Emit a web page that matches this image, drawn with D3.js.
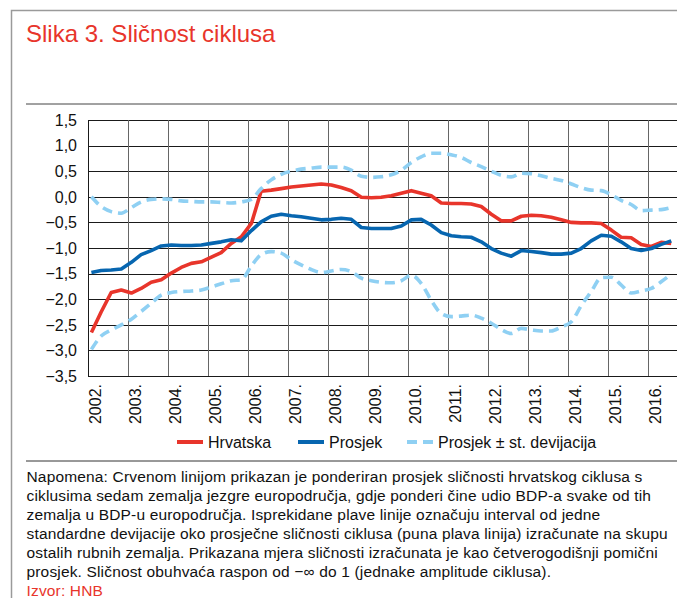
<!DOCTYPE html>
<html>
<head>
<meta charset="utf-8">
<script src="https://cdn.jsdelivr.net/npm/d3@7"></script>
<style>
  body { margin: 0; background: #fff; }
  svg { display: block; }
  .narrow { font-family: "Liberation Sans Narrow", "Arial Narrow", sans-serif; font-size: 16px; fill: #111; }
  .note { font-family: "Liberation Sans", Arial, sans-serif; font-size: 15.5px; letter-spacing: 0.16px; fill: #111; }
</style>
</head>
<body>
<svg id="chart"></svg>
<script>
// quarterly periods, 2002Q1 - 2016Q3
const periods = [
  '2002Q1','2002Q2','2002Q3','2002Q4','2003Q1','2003Q2','2003Q3','2003Q4',
  '2004Q1','2004Q2','2004Q3','2004Q4','2005Q1','2005Q2','2005Q3','2005Q4',
  '2006Q1','2006Q2','2006Q3','2006Q4','2007Q1','2007Q2','2007Q3','2007Q4',
  '2008Q1','2008Q2','2008Q3','2008Q4','2009Q1','2009Q2','2009Q3','2009Q4',
  '2010Q1','2010Q2','2010Q3','2010Q4','2011Q1','2011Q2','2011Q3','2011Q4',
  '2012Q1','2012Q2','2012Q3','2012Q4','2013Q1','2013Q2','2013Q3','2013Q4',
  '2014Q1','2014Q2','2014Q3','2014Q4','2015Q1','2015Q2','2015Q3','2015Q4',
  '2016Q1','2016Q2','2016Q3'
];

const hrvatska = [
  -2.65, -2.25, -1.87, -1.82,  -1.88, -1.79, -1.67, -1.62,
  -1.49, -1.38, -1.30, -1.27,  -1.18, -1.09, -0.91, -0.78,
  -0.52,  0.11,  0.13,  0.16,   0.19,  0.21,  0.23,  0.25,
   0.23,  0.18,  0.12, -0.01,  -0.02, -0.01,  0.02,  0.07,
   0.12,  0.07,  0.02, -0.12,  -0.13, -0.13, -0.14, -0.19,
  -0.34, -0.47, -0.47, -0.38,  -0.36, -0.37, -0.40, -0.45,
  -0.50, -0.51, -0.51, -0.52,  -0.65, -0.79, -0.80, -0.93,
  -0.97, -0.89, -0.91
];

const prosjek = [
  -1.48, -1.44, -1.43, -1.41,  -1.28, -1.13, -1.05, -0.96,
  -0.94, -0.95, -0.95, -0.94,  -0.91, -0.88, -0.84, -0.86,
  -0.66, -0.49, -0.38, -0.34,  -0.37, -0.39, -0.42, -0.45,
  -0.44, -0.42, -0.44, -0.60,  -0.62, -0.62, -0.62, -0.57,
  -0.45, -0.44, -0.55, -0.70,  -0.76, -0.78, -0.79, -0.88,
  -1.01, -1.10, -1.16, -1.05,  -1.07, -1.09, -1.12, -1.12,
  -1.10, -1.01, -0.86, -0.75,  -0.77, -0.88, -1.01, -1.05,
  -1.01, -0.93, -0.86
];

const prosjekPlusSd = [
   0.00, -0.19, -0.29, -0.32,  -0.21, -0.10, -0.05, -0.04,
  -0.05, -0.08, -0.09, -0.10,  -0.10, -0.11, -0.12, -0.10,
  -0.05,  0.16,  0.33,  0.44,   0.50,  0.54,  0.56,  0.58,
   0.58,  0.58,  0.52,  0.40,   0.38,  0.39,  0.43,  0.52,
   0.67,  0.78,  0.85,  0.85,   0.82,  0.77,  0.67,  0.59,
   0.50,  0.42,  0.39,  0.46,   0.45,  0.41,  0.36,  0.32,
   0.25,  0.18,  0.13,  0.12,   0.04, -0.07, -0.15, -0.27,
  -0.26, -0.25, -0.21
];

const prosjekMinusSd = [
  -2.98, -2.72, -2.60, -2.50,  -2.39, -2.24, -2.08, -1.92,
  -1.87, -1.85, -1.84, -1.82,  -1.76, -1.70, -1.64, -1.62,
  -1.35, -1.13, -1.07, -1.10,  -1.23, -1.33, -1.42, -1.48,
  -1.45, -1.42, -1.46, -1.59,  -1.64, -1.67, -1.68, -1.64,
  -1.53, -1.69, -2.02, -2.28,  -2.34, -2.33, -2.31, -2.37,
  -2.47, -2.59, -2.67, -2.57,  -2.60, -2.62, -2.62, -2.54,
  -2.44, -2.13, -1.85, -1.58,  -1.57, -1.72, -1.88, -1.84,
  -1.79, -1.66, -1.51
];

const yearLabels = ['2002.','2003.','2004.','2005.','2006.','2007.','2008.','2009.',
  '2010.','2011.','2012.','2013.','2014.','2015.','2016.'];
const yTicks = [1.5, 1.0, 0.5, 0.0, -0.5, -1.0, -1.5, -2.0, -2.5, -3.0, -3.5];

const title = 'Slika 3. Sličnost ciklusa';
const noteLines = [
  'Napomena: Crvenom linijom prikazan je ponderiran prosjek sličnosti hrvatskog ciklusa s',
  'ciklusima sedam zemalja jezgre europodručja, gdje ponderi čine udio BDP-a svake od tih',
  'zemalja u BDP-u europodručja. Isprekidane plave linije označuju interval od jedne',
  'standardne devijacije oko prosječne sličnosti ciklusa (puna plava linija) izračunate na skupu',
  'ostalih rubnih zemalja. Prikazana mjera sličnosti izračunata je kao četverogodišnji pomični',
  'prosjek. Sličnost obuhvaća raspon od −∞ do 1 (jednake amplitude ciklusa).'
];
const source = 'Izvor: HNB';

const series = [
  { name: 'Hrvatska', values: hrvatska, color: '#e8352b', dash: null },
  { name: 'Prosjek', values: prosjek, color: '#0766b0', dash: null },
  { name: 'Prosjek ± st. devijacija', values: prosjekPlusSd, color: '#8fd0f3', dash: '10,6', smooth: true },
  { name: null, values: prosjekMinusSd, color: '#8fd0f3', dash: '10,6', smooth: true }
];

const W = 677, H = 598;
const red = '#e8352b';
const svg = d3.select('#chart').attr('width', W).attr('height', H);

// frame
svg.append('path').attr('d', `M11.5,${H} V10.5 H${W}`)
  .attr('fill', 'none').attr('stroke', '#9a9a9a').attr('stroke-width', 1.5);

svg.append('text').attr('x', 26).attr('y', 42)
  .style('font-family', '"Liberation Sans", Arial, sans-serif')
  .style('font-size', '24px')
  .attr('fill', red).text(title);

svg.append('line').attr('x1', 26).attr('x2', W).attr('y1', 104).attr('y2', 104)
  .attr('stroke', '#444').attr('stroke-width', 1);

// plot area
const plot = { left: 88, top: 120, bottom: 376 };
const parseQ = s => new Date(+s.slice(0, 4), (+s.slice(5) - 1) * 3 + 1.5, 1);
const x = d3.scaleTime()
  .domain([new Date(2002, 0, 1), new Date(2017, 0, 1)])
  .range([plot.left, plot.left + 600]);
const y = d3.scaleLinear().domain([-3.5, 1.5]).range([plot.bottom, plot.top]);

const fmt = d3.formatLocale({ decimal: ',', thousands: '.', grouping: [3], currency: ['', ''], minus: '\u2212' }).format('.1f');

const g = svg.append('g');

// horizontal gridlines
g.selectAll('.hgrid').data(yTicks).join('line')
  .attr('x1', plot.left).attr('x2', W)
  .attr('y1', d => Math.round(y(d)) + 0.5).attr('y2', d => Math.round(y(d)) + 0.5)
  .attr('stroke', '#1a1a1a').attr('stroke-width', 1);

// vertical gridlines at year starts
const yearStarts = yearLabels.map(l => new Date(+l.slice(0, 4), 0, 1));
yearStarts.push(new Date(2017, 0, 1));
g.selectAll('.vgrid').data(yearStarts).join('line')
  .attr('x1', d => Math.round(x(d)) + 0.5).attr('x2', d => Math.round(x(d)) + 0.5)
  .attr('y1', plot.top).attr('y2', plot.bottom)
  .attr('stroke', d => +d === +yearStarts[0] ? '#1a1a1a' : '#666').attr('stroke-width', 1);

// y labels
g.selectAll('.ylab').data(yTicks).join('text')
  .attr('class', 'narrow')
  .attr('x', 77).attr('y', d => y(d)).attr('dy', '0.36em')
  .attr('text-anchor', 'end').text(d => fmt(d));

// x labels (rotated)
g.selectAll('.xlab').data(yearLabels).join('text')
  .attr('class', 'narrow')
  .attr('transform', d => `translate(${x(new Date(+d.slice(0, 4), 0, 1)) + 7.5},384) rotate(-90)`)
  .attr('dy', '0.36em').attr('text-anchor', 'end').text(d => d);

// lines
const lines = g.append('g');
series.forEach(s => {
  const line = d3.line()
    .x((d, i) => x(parseQ(periods[i])))
    .y(d => y(d))
    .curve(s.smooth ? d3.curveMonotoneX : d3.curveLinear);
  lines.append('path').datum(s.values)
    .attr('d', line).attr('fill', 'none')
    .attr('stroke', s.color).attr('stroke-width', 3.6)
    .attr('stroke-linejoin', 'round')
    .attr('stroke-dasharray', s.dash);
});

// legend
const legendItems = [
  { label: 'Hrvatska', color: '#e8352b', dash: null, x: 177 },
  { label: 'Prosjek', color: '#0766b0', dash: null, x: 298 },
  { label: 'Prosjek ± st. devijacija', color: '#8fd0f3', dash: '10,6', x: 407 }
];
const lg = svg.append('g').attr('transform', 'translate(0,442)');
legendItems.forEach(d => {
  lg.append('line').attr('x1', d.x).attr('x2', d.x + 26).attr('y1', 0).attr('y2', 0)
    .attr('stroke', d.color).attr('stroke-width', 4).attr('stroke-dasharray', d.dash);
  lg.append('text').attr('class', 'narrow').attr('x', d.x + 31).attr('y', 0).attr('dy', '0.36em').text(d.label);
});

// notes
svg.append('line').attr('x1', 26).attr('x2', W).attr('y1', 461).attr('y2', 461)
  .attr('stroke', '#333').attr('stroke-width', 1);
svg.selectAll('.noteLine').data(noteLines).join('text')
  .attr('class', 'note').attr('x', 26.5).attr('y', (d, i) => 481.5 + i * 19.1).text(d => d);
svg.append('text').attr('class', 'note').attr('x', 26.5).attr('y', 481.5 + noteLines.length * 19.1)
  .style('fill', red).text(source);
</script>
</body>
</html>
